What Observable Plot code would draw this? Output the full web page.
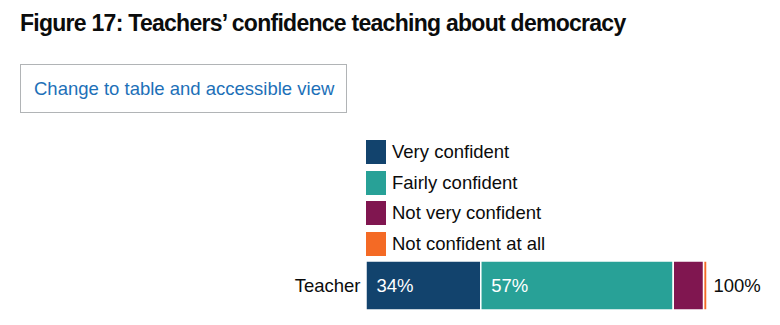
<!DOCTYPE html>
<html><head><meta charset="utf-8">
<script src="https://cdn.jsdelivr.net/npm/d3@7"></script>
<script src="https://cdn.jsdelivr.net/npm/@observablehq/plot@0.6"></script>
<style>
html,body{margin:0;padding:0;background:#fff;}
body{width:780px;height:325px;position:relative;overflow:hidden;font-family:"Liberation Sans",Arial,sans-serif;color:#0b0c0c;}
#title{position:absolute;left:20px;top:10px;margin:0;font-size:23px;font-weight:bold;letter-spacing:-0.73px;white-space:nowrap;}
#btn{position:absolute;left:20px;top:64px;width:327px;height:49px;border:1px solid #b1b4b6;box-sizing:border-box;color:#1d70b8;font-size:18.5px;line-height:47px;padding-left:13px;white-space:nowrap;}
#legend{position:absolute;left:366px;top:140px;}
.item{display:flex;align-items:center;height:24px;margin-bottom:6.5px;font-size:18.5px;}
.sw{width:20px;height:24px;margin-right:6px;}
#chart{position:absolute;left:0;top:261px;}
</style></head>
<body>
<h2 id="title">Figure 17: Teachers’ confidence teaching about democracy</h2>
<div id="btn">Change to table and accessible view</div>
<div id="legend"></div>
<div id="chart"></div>
<script>
const categories = ["Very confident", "Fairly confident", "Not very confident", "Not confident at all"];
const values = [34, 57, 9, 1];
const colors = ["#12436d", "#28a197", "#801650", "#f46a25"];
const groups = ["Teacher"];
const totalLabels = ["100%"];

const data = categories.map((c, i) => ({group: groups[0], category: c, value: values[i]}));

const legend = document.getElementById("legend");
categories.forEach((c, i) => {
  const it = document.createElement("div");
  it.className = "item";
  it.innerHTML = `<div class="sw" style="background:${colors[i]}"></div><span>${c}</span>`;
  legend.appendChild(it);
});

const plot = Plot.plot({
  width: 780,
  height: 49,
  marginLeft: 366,
  marginRight: 73,
  marginTop: 0,
  marginBottom: 0,
  style: {fontFamily: "Liberation Sans, Arial, sans-serif", fontSize: "18px", color: "#0b0c0c", background: "transparent"},
  x: {domain: [0, d3.sum(values)], axis: null},
  y: {domain: groups, padding: 0, label: null},
  color: {domain: categories, range: colors},
  marks: [
    Plot.axisY({tickSize: 0, tickPadding: 6, fontSize: 18.5, fill: "#0b0c0c"}),
    Plot.barX(data, Plot.stackX({x: "value", y: "group", fill: "category", z: "category", order: categories, stroke: "white", strokeWidth: 1.5})),
    Plot.text(data, Plot.stackX1({x: "value", y: "group", z: "category", order: categories, filter: d => d.value >= 10, text: d => d.value + "%", textAnchor: "start", dx: 10, fill: "white", fontSize: 18.5})),
    Plot.text(groups.map((g, i) => ({group: g, total: d3.sum(values), label: totalLabels[i]})), {x: "total", y: "group", text: "label", textAnchor: "start", dx: 6, fill: "#0b0c0c", fontSize: 18.5})
  ]
});
document.getElementById("chart").appendChild(plot);
</script>
</body></html>
